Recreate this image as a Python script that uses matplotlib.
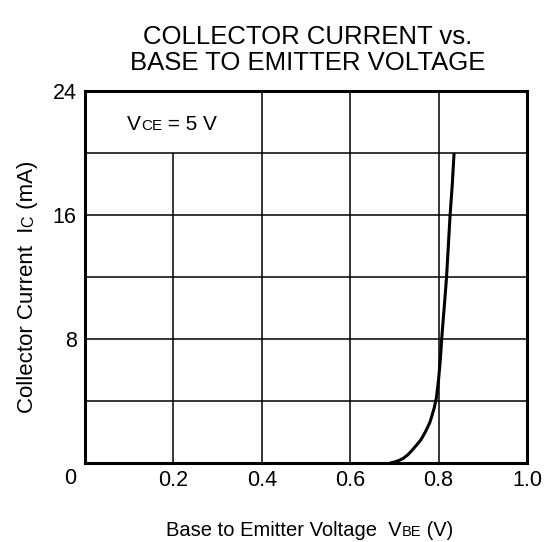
import matplotlib
matplotlib.use('Agg')
import matplotlib.pyplot as plt

plt.rcParams['font.family'] = ['Liberation Sans', 'DejaVu Sans']

# curve: V_BE (V) vs I_C (mA)
vbe = [0.69, 0.70, 0.71, 0.72, 0.73, 0.74, 0.75, 0.76, 0.77, 0.78, 0.785, 0.79,
       0.795, 0.80, 0.804, 0.807, 0.81, 0.814, 0.818, 0.822, 0.826, 0.831, 0.835]
ic = [0.0, 0.06, 0.16, 0.3, 0.52, 0.82, 1.15, 1.5, 2.0, 2.6, 3.05, 3.55,
      4.2, 5.4, 6.7, 8.0, 9.1, 10.5, 12.0, 14.0, 16.0, 18.0, 20.0]

x_ticks = [0.2, 0.4, 0.6, 0.8, 1.0]
x_tick_labels = ['0.2', '0.4', '0.6', '0.8', '1.0']
y_ticks = [8, 16, 24]
y_tick_labels = ['8', '16', '24']
x_grid = [0.4, 0.6, 0.8]
y_grid = [4, 8, 12, 16, 20]

W, H = 544, 542
fig = plt.figure(figsize=(W / 100, H / 100), dpi=100)
ax = fig.add_axes([85 / W, 1 - 463 / H, 442 / W, 372 / H])
ax.set_xlim(0, 1.0)
ax.set_ylim(0, 24)

for g in x_grid:
    ax.vlines(g, 0, 24, color='black', lw=1.1)
ax.vlines(0.2, 0, 20, color='black', lw=1.1)
for g in y_grid:
    ax.hlines(g, 0, 1.0, color='black', lw=1.1)

ax.plot(vbe, ic, color='black', lw=2.2, solid_capstyle='butt')

for sp in ax.spines.values():
    sp.set_linewidth(2.2)

ax.set_xticks(x_ticks)
ax.set_xticklabels(x_tick_labels, fontsize=15.5)
ax.set_yticks(y_ticks)
ax.set_yticklabels(y_tick_labels, fontsize=15.5)
ax.tick_params(axis='x', length=0, pad=5)
ax.tick_params(axis='y', length=0, pad=6)
ax.text(-0.034, -0.041, '0', transform=ax.transAxes, fontsize=15.5, ha='center', va='center')

fig.canvas.draw()
renderer = fig.canvas.get_renderer()


def draw_parts(cx, cy, parts, rotation=0):
    # parts: (text, fontsize); the smaller ones work as subscripts on the baseline
    widths = []
    for s, size in parts:
        t = fig.text(0, 0, s, fontsize=size)
        bb = t.get_window_extent(renderer)
        widths.append(bb.width)
        t.remove()
    total = sum(widths)
    pos = -total / 2
    for (s, size), w in zip(parts, widths):
        if rotation == 0:
            px, py = cx + pos, cy
        else:
            px, py = cx, cy + pos
        fig.text(px / W, py / H, s, fontsize=size, ha='left', va='baseline',
                 rotation=rotation, rotation_mode='anchor')
        pos += w


draw_parts(172, H - 130, [('V', 15), ('CE', 11), (' = 5 V', 15)])
draw_parts(310, H - 536, [('Base to Emitter Voltage  V', 14.5), ('BE', 10.5), (' (V)', 14.5)])
draw_parts(33, H - 287, [('Collector Current  I', 16), ('C', 11.5), (' (mA)', 16)], rotation=90)

fig.text(308 / W, 1 - 50 / H, 'COLLECTOR CURRENT vs.\nBASE TO EMITTER VOLTAGE',
         fontsize=18.5, ha='center', va='center', linespacing=1.15)

fig.savefig('out.png', dpi=100)
